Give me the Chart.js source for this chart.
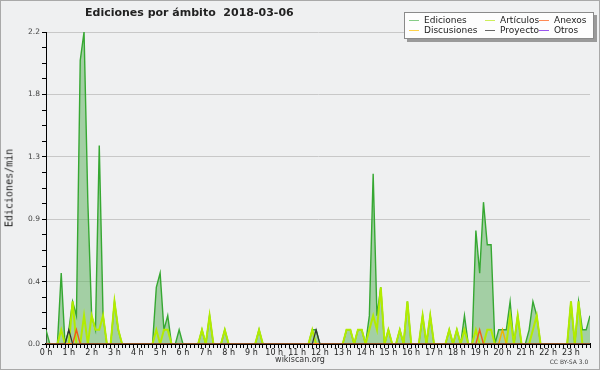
<!DOCTYPE html>
<html>
<head>
<meta charset="utf-8">
<script src="https://cdn.jsdelivr.net/npm/chart.js@4.4.1/dist/chart.umd.min.js"></script>
<style>
  html, body { margin: 0; padding: 0; background: #eff0f1; }
  #wrap { position: relative; width: 600px; height: 370px; background: #eff0f1; overflow: hidden; }
  #frame { position: absolute; left: 0; top: 0; width: 600px; height: 370px; box-sizing: border-box; border: 1px solid #a9a9a9; pointer-events: none; }
  .txt { position: absolute; font-family: "DejaVu Sans", sans-serif; color: #222; white-space: nowrap; }
  #title { left: 85px; top: 6px; font-size: 11px; font-weight: bold; }
  #ytitle { left: 9px; top: 188px; font-family: "DejaVu Sans Mono", monospace; font-size: 10px; transform: translate(-50%, -50%) rotate(-90deg); }
  #site { left: 300px; top: 355px; font-size: 8px; transform: translateX(-50%); color: #333; }
  #lic { left: 569px; top: 358px; font-size: 6px; transform: translateX(-50%); color: #444; }
  #legend { position: absolute; left: 404px; top: 12px; width: 188px; height: 25px; background: #fdfdfd; border: 1px solid #8a8a8a; box-shadow: 3px 3px 0 #9a9a9a; }
  .sw { position: absolute; width: 10px; height: 1px; }
  .lt { position: absolute; font-family: "DejaVu Sans", sans-serif; font-size: 9px; color: #222; line-height: 10px; }
</style>
</head>
<body>
<div id="wrap">
  <canvas id="chart" width="600" height="370"></canvas>
  <div class="txt" id="title">Ediciones por ámbito&nbsp;&nbsp;2018-03-06</div>
  <div class="txt" id="ytitle">Ediciones/min</div>
  <div class="txt" id="site">wikiscan.org</div>
  <div class="txt" id="lic">CC BY-SA 3.0</div>
  <div id="legend"></div>
  <div id="frame"></div>
</div>
<script>
// 10-minute bins over the day, edits per minute
var ediciones = [
  0.1, 0, 0, 0, 0.5, 0, 0.1, 0.3, 0.2, 2.0, 2.2, 1.0,
  0.2, 0.1, 1.4, 0.2, 0, 0, 0.3, 0.1, 0, 0, 0, 0,
  0, 0, 0, 0, 0, 0.4, 0.5, 0.1, 0.2, 0, 0, 0.1,
  0, 0, 0, 0, 0, 0.1, 0, 0.2, 0, 0, 0, 0.1,
  0, 0, 0, 0, 0, 0, 0, 0, 0.1, 0, 0, 0,
  0, 0, 0, 0, 0, 0, 0, 0, 0, 0, 0.1, 0.1,
  0, 0, 0, 0, 0, 0, 0, 0.1, 0.1, 0, 0.1, 0.1,
  0, 0.2, 1.2, 0.2, 0.4, 0, 0.1, 0, 0, 0.1, 0, 0.3,
  0, 0, 0, 0.2, 0, 0.2, 0, 0, 0, 0, 0.1, 0,
  0.1, 0, 0.2, 0, 0, 0.8, 0.5, 1.0, 0.7, 0.7, 0, 0.1,
  0.1, 0.1, 0.3, 0, 0.2, 0, 0, 0.1, 0.3, 0.2, 0, 0,
  0, 0, 0, 0, 0, 0, 0.3, 0, 0.3, 0.1, 0.1, 0.2
];
var articulos = [
  0, 0, 0, 0, 0.1, 0, 0, 0.3, 0, 0, 0.2, 0,
  0.2, 0.1, 0.1, 0.2, 0, 0, 0.3, 0.1, 0, 0, 0, 0,
  0, 0, 0, 0, 0, 0.1, 0, 0.1, 0.1, 0, 0, 0,
  0, 0, 0, 0, 0, 0.1, 0, 0.2, 0, 0, 0, 0.1,
  0, 0, 0, 0, 0, 0, 0, 0, 0.1, 0, 0, 0,
  0, 0, 0, 0, 0, 0, 0, 0, 0, 0, 0.1, 0,
  0, 0, 0, 0, 0, 0, 0, 0.1, 0.1, 0, 0.1, 0.1,
  0, 0.1, 0.2, 0.1, 0.4, 0, 0.1, 0, 0, 0.1, 0, 0.3,
  0, 0, 0, 0.2, 0, 0.2, 0, 0, 0, 0, 0.1, 0,
  0.1, 0, 0.1, 0, 0, 0.1, 0, 0, 0.1, 0.1, 0, 0,
  0, 0, 0.2, 0, 0.2, 0, 0, 0, 0.1, 0.2, 0, 0,
  0, 0, 0, 0, 0, 0, 0.3, 0, 0.3, 0, 0, 0
];
// sparse series: [bin, value]
var anexos = [[8, 0.1], [114, 0.1]];
var discusiones = [[120, 0.1]];
var proyecto = [[6, 0.1], [71, 0.1]];
var otros = [];

var binsPerHour = 6;
var hourLabels = [];
for (var h = 0; h < 24; h++) hourLabels.push(h + " h");
var yMajorTicks = [0, 0.44, 0.88, 1.32, 1.76, 2.2];
var yMinorPerMajor = 4;

var legendItems = [
  { label: "Ediciones", color: "#86cc86", x: 4, y: 2 },
  { label: "Artículos", color: "#cdee5a", x: 80, y: 2 },
  { label: "Anexos", color: "#ff8a55", x: 134, y: 2 },
  { label: "Discusiones", color: "#ffd24a", x: 4, y: 12 },
  { label: "Proyecto", color: "#666666", x: 80, y: 12 },
  { label: "Otros", color: "#9a55ee", x: 134, y: 12 }
];

function toPoints(arr) {
  return arr.map(function (v, i) { return { x: i, y: v }; });
}
function sparseToPoints(pairs) {
  var out = ediciones.map(function (_, i) { return { x: i, y: 0 }; });
  pairs.forEach(function (p) { out[p[0]].y = p[1]; });
  return out;
}
function isMajor(v) {
  return yMajorTicks.some(function (m) { return Math.abs(m - v) < 1e-6; });
}

var xTicks = ediciones.map(function (_, i) { return i; });
var yTicks = [];
for (var k = 0; k < yMajorTicks.length - 1; k++) {
  var step = (yMajorTicks[k + 1] - yMajorTicks[k]) / yMinorPerMajor;
  for (var j = 0; j < yMinorPerMajor; j++) yTicks.push(yMajorTicks[k] + j * step);
}
yTicks.push(yMajorTicks[yMajorTicks.length - 1]);

// legend
var legend = document.getElementById("legend");
legendItems.forEach(function (it) {
  var sw = document.createElement("div");
  sw.className = "sw";
  sw.style.left = it.x + "px";
  sw.style.top = (it.y + 5) + "px";
  sw.style.background = it.color;
  legend.appendChild(sw);
  var t = document.createElement("div");
  t.className = "lt";
  t.style.left = (it.x + 15) + "px";
  t.style.top = it.y + "px";
  t.textContent = it.label;
  legend.appendChild(t);
});

var lineBase = { pointRadius: 0, pointHoverRadius: 0, tension: 0, fill: false };

new Chart(document.getElementById("chart"), {
  type: "line",
  data: {
    datasets: [
      Object.assign({}, lineBase, { label: "Ediciones", data: toPoints(ediciones), borderColor: "#36a832", borderWidth: 1.4, backgroundColor: "rgba(100,180,100,0.55)", fill: "origin", order: 10 }),
      Object.assign({}, lineBase, { label: "Artículos", data: toPoints(articulos), borderColor: "#b2ec00", borderWidth: 2, order: 5 }),
      Object.assign({}, lineBase, { label: "Anexos", data: sparseToPoints(anexos), borderColor: "#f05a1a", borderWidth: 1.4, order: 2 }),
      Object.assign({}, lineBase, { label: "Discusiones", data: sparseToPoints(discusiones), borderColor: "#f2b400", borderWidth: 1.4, order: 3 }),
      Object.assign({}, lineBase, { label: "Proyecto", data: sparseToPoints(proyecto), borderColor: "#333333", borderWidth: 1.2, order: 1 }),
      Object.assign({}, lineBase, { label: "Otros", data: sparseToPoints(otros), borderColor: "#9040e0", borderWidth: 1.2, order: 4 })
    ]
  },
  options: {
    responsive: false,
    animation: false,
    devicePixelRatio: 1,
    layout: { padding: { top: 32, right: 10, left: 0, bottom: 0 } },
    plugins: { legend: { display: false }, tooltip: { enabled: false } },
    scales: {
      x: {
        type: "linear",
        min: 0,
        max: xTicks.length - 1,
        z: 1,
        afterBuildTicks: function (scale) {
          scale.ticks = xTicks.map(function (v) { return { value: v }; });
        },
        afterFit: function (scale) { scale.height = 26; },
        ticks: {
          autoSkip: false,
          maxRotation: 0,
          minRotation: 0,
          padding: 0,
          color: "#222",
          font: { family: "DejaVu Sans", size: 8 },
          callback: function (v) {
            return v % binsPerHour === 0 ? hourLabels[v / binsPerHour] : "";
          }
        },
        grid: { drawOnChartArea: false, tickLength: 4, tickColor: "#000", tickWidth: 1 },
        border: { color: "#000", width: 2 }
      },
      y: {
        min: 0,
        max: yMajorTicks[yMajorTicks.length - 1],
        afterBuildTicks: function (scale) {
          scale.ticks = yTicks.map(function (v) { return { value: v }; });
        },
        afterFit: function (scale) { scale.width = 46; },
        ticks: {
          padding: 2,
          color: "#444",
          font: { family: "DejaVu Sans", size: 7.5 },
          callback: function (v) { return isMajor(v) ? v.toFixed(1) : ""; }
        },
        grid: {
          tickLength: 4,
          tickColor: "#000",
          color: function (ctx) { return ctx.tick && isMajor(ctx.tick.value) ? "#c8c8c8" : "rgba(0,0,0,0)"; }
        },
        border: { color: "#000", width: 1 }
      }
    }
  }
});
</script>
</body>
</html>
